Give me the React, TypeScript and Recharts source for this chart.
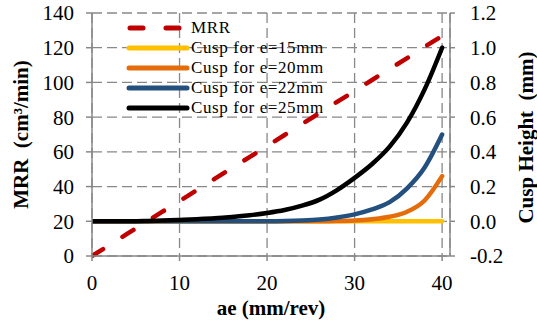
import React from "react";
import { LineChart, Line, XAxis, YAxis, CartesianGrid, Legend } from "recharts";

const aeValues = [0, 2, 4, 6, 8, 10, 12, 14, 16, 18, 20, 22, 24, 26, 28, 30, 32, 34, 36, 38, 40];
const mrrValues = [0, 6.3, 12.7, 19, 25.4, 31.7, 38, 44.4, 50.7, 57, 63.4, 69.7, 76, 82.4, 88.8, 95, 101.4, 107.8, 114, 120.5, 126.8];
const cusp15 = [0, 0, 0, 0, 0, 0, 0, 0, 0, 0, 0, 0, 0, 0, 0, 0, 0, 0, 0, 0, 0];
const cusp20 = [0, 0, 0, 0, 0, 0, 0, 0, 0, 0, 0, 0, 0, 0, 0.001, 0.004, 0.012, 0.026, 0.055, 0.12, 0.26];
const cusp22 = [0, 0, 0, 0, 0, 0, 0, 0, 0, 0, 0, 0.001, 0.004, 0.01, 0.022, 0.04, 0.068, 0.11, 0.19, 0.31, 0.5];
const cusp25 = [0, 0, 0, 0.001, 0.004, 0.008, 0.012, 0.017, 0.025, 0.035, 0.048, 0.065, 0.09, 0.125, 0.18, 0.25, 0.33, 0.43, 0.57, 0.76, 1.0];

const xTicks = [0, 10, 20, 30, 40];
const leftTicks = [0, 20, 40, 60, 80, 100, 120, 140];
const rightTicks = [-0.2, 0, 0.2, 0.4, 0.6, 0.8, 1.0, 1.2];

const seriesNames = ["MRR", "Cusp for e=15mm", "Cusp for e=20mm", "Cusp for e=22mm", "Cusp for e=25mm"];
const seriesColors = ["#C00000", "#FFC000", "#E46C0A", "#23507F", "#000000"];

const data = aeValues.map((x, i) => ({
  ae: x,
  mrr: mrrValues[i],
  c15: cusp15[i],
  c20: cusp20[i],
  c22: cusp22[i],
  c25: cusp25[i],
}));

const FONT = "'Liberation Serif', 'Times New Roman', serif";
const AXIS = "#888888";

const tickStyle = { fontSize: 21, fill: "#000", fontFamily: FONT, style: { fontFamily: FONT } };

const renderLegend = () => (
  <div style={{ fontFamily: FONT, fontSize: 17, color: "#000", textAlign: "left" }}>
    {seriesNames.map((name, i) => (
      <div key={name} style={{ display: "flex", alignItems: "center", height: 20, whiteSpace: "pre" }}>
        <svg width={64} height={20} style={{ display: "block" }}>
          {i === 0 ? (
            <line x1={4} y1={10} x2={58} y2={10} stroke={seriesColors[i]} strokeWidth={5} strokeDasharray="13 23" strokeLinecap="round" />
          ) : (
            <line x1={3} y1={10} x2={61} y2={10} stroke={seriesColors[i]} strokeWidth={5} strokeLinecap="round" />
          )}
        </svg>
        <span style={{ marginLeft: 1, letterSpacing: 0.6 }}>{name}</span>
      </div>
    ))}
  </div>
);

const LeftTitle = (props: any) => {
  const vb = props.viewBox;
  const x = vb.x + 21;
  const y = vb.y + vb.height / 2;
  return (
    <text x={x} y={y} transform={`rotate(-90, ${x}, ${y})`} textAnchor="middle" dominantBaseline="central"
      style={{ fontFamily: FONT, fontSize: 21, fontWeight: "bold", whiteSpace: "pre" }} fill="#000">
      {"MRR  (cm³/min)"}
    </text>
  );
};

const RightTitle = (props: any) => {
  const vb = props.viewBox;
  const x = vb.x + 76;
  const y = vb.y + vb.height / 2 + 3;
  return (
    <text x={x} y={y} transform={`rotate(-90, ${x}, ${y})`} textAnchor="middle" dominantBaseline="central"
      style={{ fontFamily: FONT, fontSize: 21, fontWeight: "bold", whiteSpace: "pre" }} fill="#000">
      {"Cusp Height  (mm)"}
    </text>
  );
};

export default function App() {
  return (
    <div style={{ position: "absolute", left: 0, top: 0, width: 537, height: 327, background: "#fff", fontFamily: FONT }}>
      <LineChart width={537} height={327} data={data} margin={{ top: 13, right: 0, bottom: 11, left: 0 }} style={{ fontFamily: FONT }}>
        <CartesianGrid yAxisId="left" stroke={AXIS} strokeWidth={1.3} strokeDasharray="10 5" />
        <XAxis
          dataKey="ae"
          type="number"
          domain={[0, 40.9]}
          ticks={xTicks}
          allowDataOverflow
          height={60}
          tick={tickStyle}
          tickSize={5}
          tickMargin={14}
          stroke={AXIS}
          strokeWidth={1.5}
          label={{ value: "ae (mm/rev)", position: "insideBottom", offset: 1, style: { fontFamily: FONT, fontSize: 21, fontWeight: "bold", fill: "#000", whiteSpace: "pre" } }}
        />
        <YAxis
          yAxisId="left"
          orientation="left"
          width={92}
          domain={[0, 140]}
          ticks={leftTicks}
          tick={tickStyle}
          tickSize={6}
          tickMargin={12}
          stroke={AXIS}
          strokeWidth={1.5}
          label={<LeftTitle />}
        />
        <YAxis
          yAxisId="right"
          orientation="right"
          width={87}
          domain={[-0.2, 1.2]}
          ticks={rightTicks}
          tickFormatter={(v: number) => v.toFixed(1)}
          tick={tickStyle}
          tickSize={5}
          tickMargin={15}
          stroke={AXIS}
          strokeWidth={1.5}
          label={<RightTitle />}
        />
        <Legend
          content={renderLegend}
          layout="horizontal"
          align="center"
          verticalAlign="middle"
          wrapperStyle={{ position: "absolute", left: 126, top: 18, width: "auto", height: "auto" }}
        />
        <Line yAxisId="left" dataKey="mrr" name={seriesNames[0]} stroke={seriesColors[0]} strokeWidth={4.5} strokeDasharray="13 23" strokeLinecap="round" dot={false} isAnimationActive={false} type="linear" />
        <Line yAxisId="right" dataKey="c15" name={seriesNames[1]} stroke={seriesColors[1]} strokeWidth={4.5} strokeLinecap="round" dot={false} isAnimationActive={false} type="monotone" />
        <Line yAxisId="right" dataKey="c20" name={seriesNames[2]} stroke={seriesColors[2]} strokeWidth={4.5} strokeLinecap="round" dot={false} isAnimationActive={false} type="monotone" />
        <Line yAxisId="right" dataKey="c22" name={seriesNames[3]} stroke={seriesColors[3]} strokeWidth={4.5} strokeLinecap="round" dot={false} isAnimationActive={false} type="monotone" />
        <Line yAxisId="right" dataKey="c25" name={seriesNames[4]} stroke={seriesColors[4]} strokeWidth={4.5} strokeLinecap="round" dot={false} isAnimationActive={false} type="monotone" />
      </LineChart>
    </div>
  );
}
